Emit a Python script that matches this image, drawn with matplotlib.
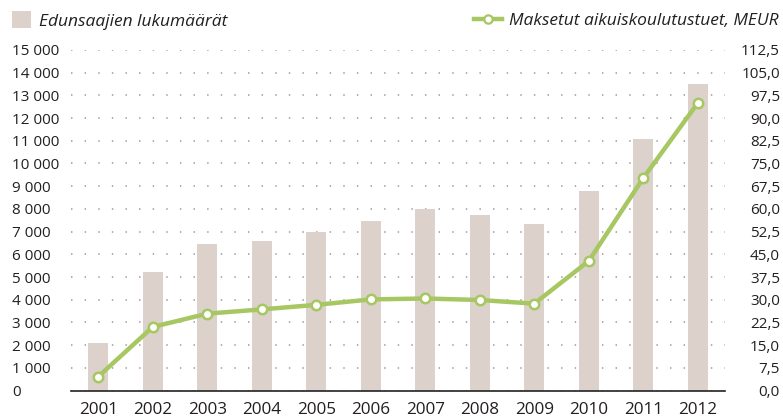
import matplotlib
matplotlib.use("Agg")
import matplotlib.pyplot as plt
from matplotlib.lines import Line2D
from matplotlib.patches import Patch

years = ["2001", "2002", "2003", "2004", "2005", "2006", "2007", "2008", "2009", "2010", "2011", "2012"]
beneficiaries = [2100, 5200, 6440, 6570, 6970, 7450, 7980, 7710, 7320, 8810, 11080, 13480]
payments_meur = [4.6, 21.0, 25.4, 26.8, 28.3, 30.1, 30.4, 29.9, 28.7, 42.8, 70.2, 95.0]

left_ticks = list(range(0, 15001, 1000))
left_labels = ["{:,}".format(v).replace(",", " ") for v in left_ticks]
right_ticks = [i * 7.5 for i in range(16)]
right_labels = [("%.1f" % v).replace(".", ",") for v in right_ticks]

bar_label = "Edunsaajien lukumäärät"
line_label = "Maksetut aikuiskoulutustuet, MEUR"

bar_color = "#ddd1cc"
line_color = "#a6c762"
text_color = "#231f20"

plt.rcParams["font.family"] = ["Open Sans", "DejaVu Sans"]

fig = plt.figure(figsize=(7.83, 4.20), dpi=100)
ax = fig.add_axes([0.0907, 0.0702, 0.8353, 0.8108])
ax2 = ax.twinx()

x = list(range(len(years)))
ax.bar(x, beneficiaries, width=0.37, color=bar_color, zorder=2)
ax.set_xlim(-0.5, len(years) - 0.5)
ax.set_ylim(0, 15000)
ax.set_yticks(left_ticks)
ax.set_yticklabels(left_labels, ha="left")
ax.tick_params(axis="y", length=0, pad=42.5, labelsize=11, labelcolor=text_color)
ax.set_xticks(x)
ax.set_xticklabels(years)
ax.tick_params(axis="x", length=0, pad=8, labelsize=12.3, labelcolor=text_color)

ax.grid(axis="y", color="#a8a8a8", linewidth=1.3, linestyle=(0, (0.8, 6.74)), zorder=0)
ax.set_axisbelow(True)
for s in ["top", "right", "left"]:
    ax.spines[s].set_visible(False)
ax.spines["bottom"].set_color("#222222")
ax.spines["bottom"].set_linewidth(1.2)
ax.spines["bottom"].set_zorder(5)

ax2.plot(x, payments_meur, color=line_color, linewidth=3.2, marker="o", markersize=6.8,
         markerfacecolor="white", markeredgecolor=line_color, markeredgewidth=1.8, zorder=4,
         solid_capstyle="round")
ax2.set_ylim(0, 112.5)
ax2.set_yticks(right_ticks)
ax2.set_yticklabels(right_labels, ha="right")
ax2.tick_params(axis="y", length=0, pad=39.5, labelsize=11, labelcolor=text_color)
for s in ["top", "right", "left", "bottom"]:
    ax2.spines[s].set_visible(False)

h1 = Patch(facecolor=bar_color, edgecolor="none")
fig.legend([h1], [bar_label], loc="center left", bbox_to_anchor=(-0.005, 0.951),
           frameon=False, prop={"style": "italic", "size": 12.5}, handlelength=1.1,
           handleheight=1.1, handletextpad=0.5, labelcolor=text_color)
h2 = Line2D([0], [0], color=line_color, linewidth=3.2, marker="o", markersize=6,
            markerfacecolor="white", markeredgecolor=line_color, markeredgewidth=1.6)
fig.legend([h2], [line_label], loc="center right", bbox_to_anchor=(1.014, 0.951),
           frameon=False, prop={"style": "italic", "size": 12.5}, handlelength=1.6,
           handletextpad=0.4, labelcolor=text_color)

fig.savefig("out.png", dpi=100, facecolor="white")
